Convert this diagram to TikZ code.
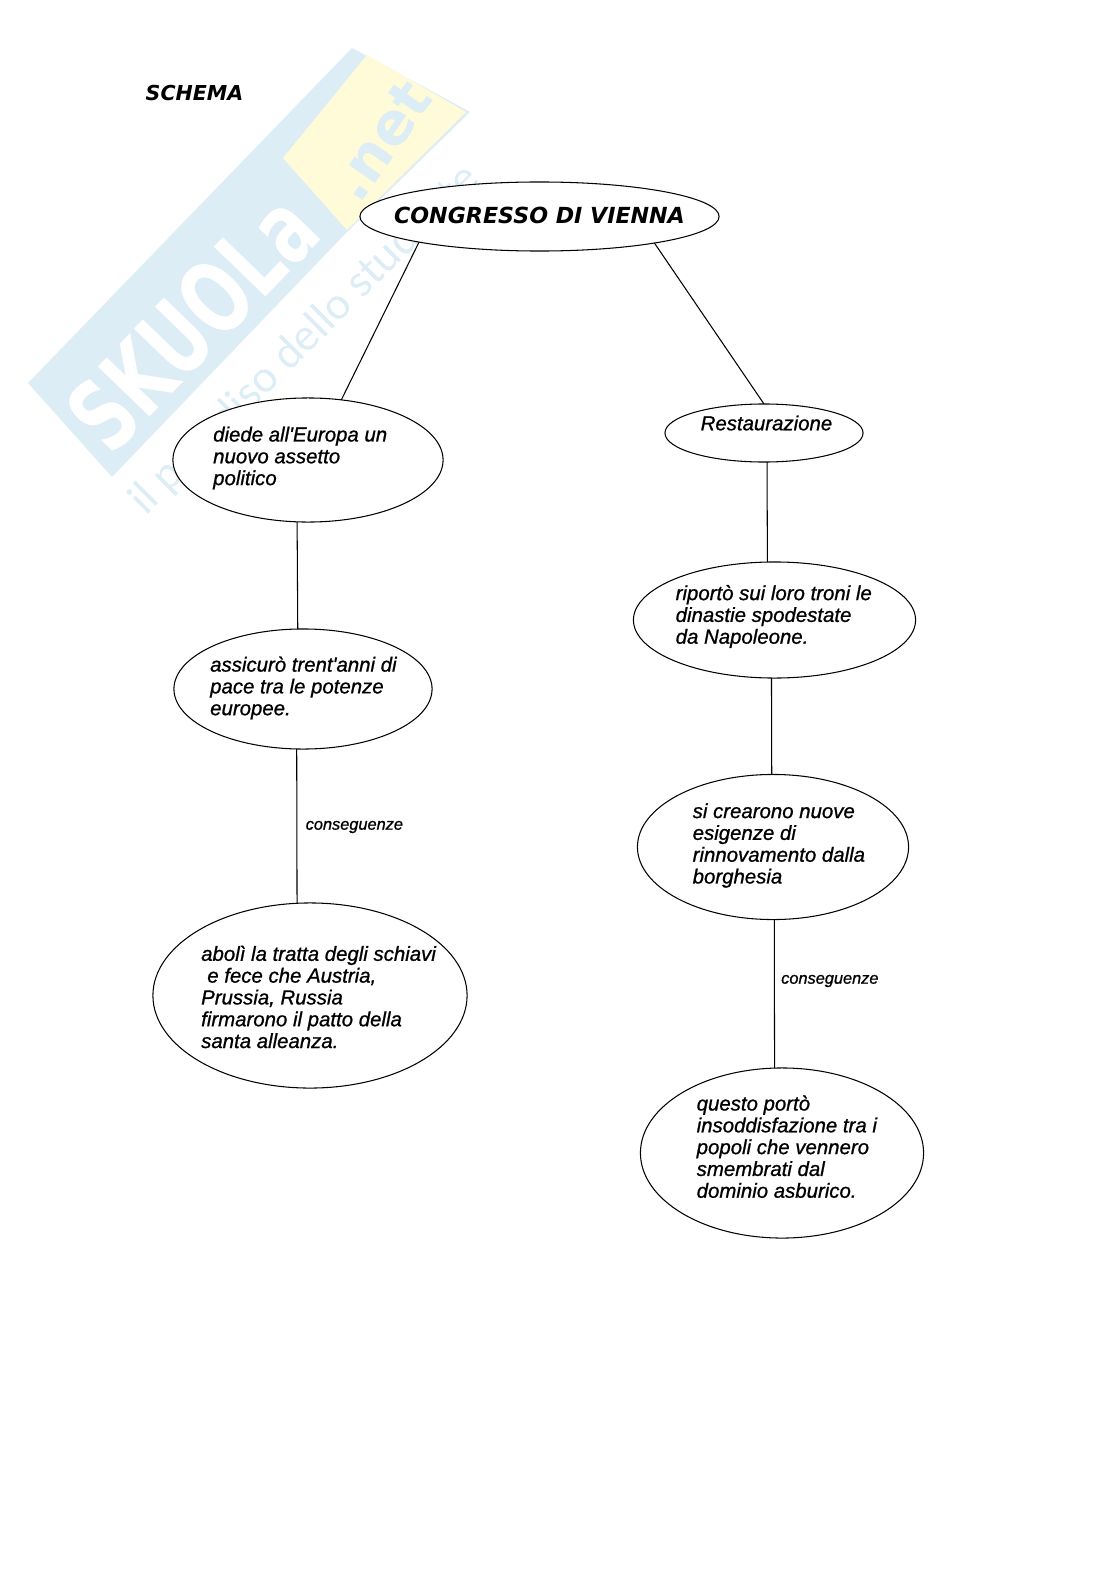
\documentclass[tikz,border=0pt]{standalone}
\usepackage{fontspec}
\usepackage{xcolor}
\setmainfont{Liberation Sans}
\newfontfamily\bodyfont[ItalicFont={Liberation Sans Italic},ItalicFeatures={FakeBold=0.9}]{Liberation Sans}
\newfontfamily\titlefont{DejaVu Sans}
\newfontfamily\markfont{Lato}
\usetikzlibrary{shapes.geometric}
\definecolor{markblue}{HTML}{DCEDF6}
\definecolor{markyellow}{HTML}{FFFBD8}
\tikzset{
    bubble/.style={ellipse, draw, fill=white, line width=0.3pt, inner sep=0pt, outer sep=0pt},
    bubbletext/.style={anchor=west, align=left, inner sep=0pt, font=\bodyfont\itshape\fontsize{5.8}{6.2}\selectfont},
    linktext/.style={anchor=west, inner sep=0pt, font=\bodyfont\itshape\fontsize{4.65}{5}\selectfont},
    headtext/.style={inner sep=0pt, font=\titlefont\bfseries\itshape},
    link/.style={line width=0.3pt}
}
\begin{document}
\begin{tikzpicture}[x=0.01cm, y=-0.01cm]
    \useasboundingbox (0,0) rectangle (1116,1579);

    % Watermark
    \fill[markblue] (28,383) -- (352,48) -- (470,112) -- (347,232) -- (112,477) -- cycle;
    \fill[markyellow] (367,55) -- (466,112) -- (347,230) -- (283,158) -- cycle;
    \node[rotate=46, xscale=0.7, transform shape, white, inner sep=0pt, font=\titlefont\bfseries\fontsize{28}{28}\selectfont] (markname) at (192,322) {SKUOLa};
    \node[rotate=55, markblue, inner sep=0pt, font=\titlefont\bfseries\fontsize{16.5}{16.5}\selectfont] (markdomain) at (381,141) {.net};
    \node[rotate=45, markblue, inner sep=0pt, font=\markfont\fontsize{12.3}{12.3}\selectfont] (markline) at (305,340) {il paradiso dello studente};

    % Title
    \node[headtext, anchor=west, font=\titlefont\bfseries\itshape\fontsize{5.85}{7}\selectfont] (schema) at (145,93) {SCHEMA};

    % Ellipses
    \node[bubble, minimum width=3.59cm, minimum height=0.69cm] (congresso) at (539.5,216.5) {};
    \node[bubble, minimum width=2.70cm, minimum height=1.24cm] (diede) at (308,460) {};
    \node[bubble, minimum width=2.58cm, minimum height=1.20cm] (assicuro) at (303,689) {};
    \node[bubble, minimum width=3.14cm, minimum height=1.85cm] (aboli) at (310,995.5) {};
    \node[bubble, minimum width=1.98cm, minimum height=0.58cm] (restaurazione) at (764,433) {};
    \node[bubble, minimum width=2.82cm, minimum height=1.16cm] (riporto) at (774.5,620) {};
    \node[bubble, minimum width=2.71cm, minimum height=1.45cm] (crearono) at (773,847) {};
    \node[bubble, minimum width=2.83cm, minimum height=1.70cm] (questo) at (782,1153) {};

    % Connectors
    \draw[link] (congresso.192.4) -- (diede.61.3);
    \draw[link] (congresso.-13.7) -- (restaurazione.90);
    \draw[link] (diede.-100) -- (assicuro.95.7);
    \draw[link] (assicuro.-96.6) -- (aboli.98.6);
    \draw[link] (restaurazione.-84.5) -- (riporto.97.85);
    \draw[link] (riporto.-93.5) -- (crearono.91.6);
    \draw[link] (crearono.-89) -- (questo.95.4);

    % Ellipse texts
    \node[headtext, font=\titlefont\bfseries\itshape\fontsize{6.3}{8}\selectfont] (congressotext) at (539.5,215.5) {CONGRESSO DI VIENNA};
    \node[bubbletext] (diedetext) at (212.5,458) {diede all'Europa un\\nuovo assetto\\politico};
    \node[bubbletext] (assicurotext) at (209.5,688) {assicurò trent'anni di\\pace tra le potenze\\europee.};
    \node[bubbletext] (abolitext) at (200.5,997) {abolì la tratta degli schiavi\\\hspace*{0.3em}e fece che Austria,\\Prussia, Russia\\firmarono il patto della\\santa alleanza.};
    \node[bubbletext] (restaurazionetext) at (700,423) {Restaurazione};
    \node[bubbletext] (riportotext) at (675,616.5) {riportò sui loro troni le\\dinastie spodestate\\da Napoleone.};
    \node[bubbletext] (crearonotext) at (692,845.5) {si crearono nuove\\esigenze di\\rinnovamento dalla\\borghesia};
    \node[bubbletext] (questotext) at (696,1146.7) {questo portò\\insoddisfazione tra i\\popoli che vennero\\smembrati dal\\dominio asburico.};

    % Link labels
    \node[linktext] (conseguenzeleft) at (305,827) {conseguenze};
    \node[linktext] (conseguenzeright) at (780.5,981) {conseguenze};
\end{tikzpicture}
\end{document}
